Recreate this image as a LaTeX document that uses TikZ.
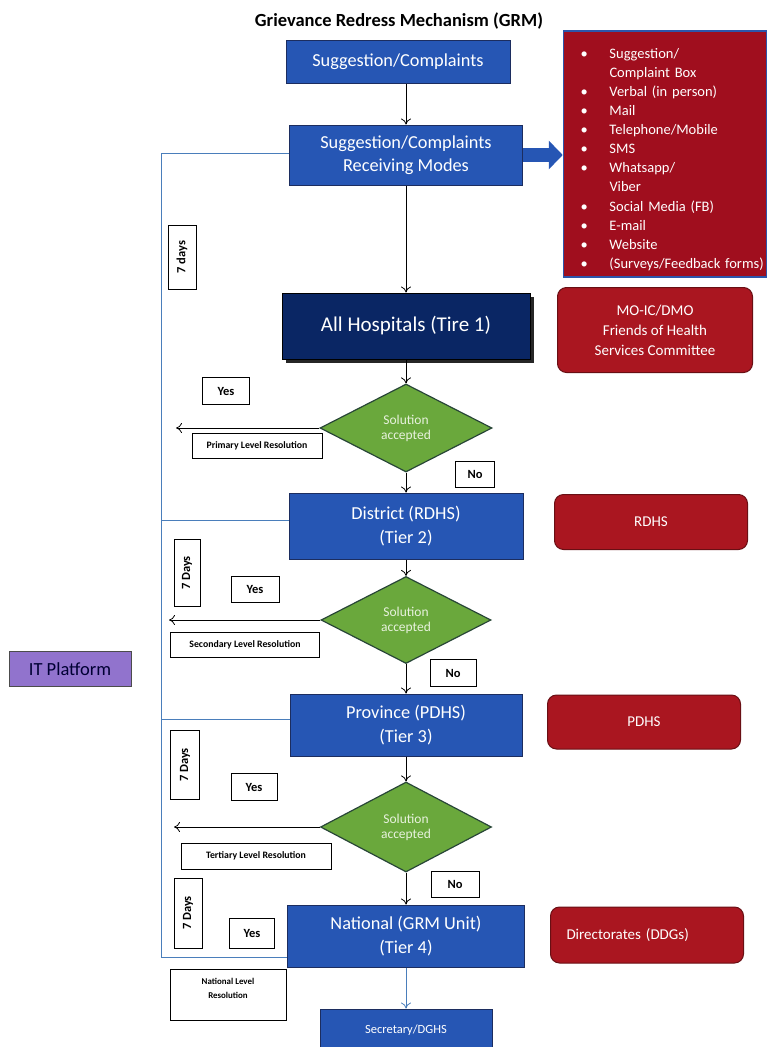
\documentclass[tikz,border=0pt]{standalone}
\usepackage{fontspec}
\setmainfont{Carlito}
\usetikzlibrary{shapes.geometric,arrows.meta,shadows}

\definecolor{grmblue}{RGB}{38,86,180}
\definecolor{grmedge}{RGB}{28,45,95}
\definecolor{grmnavy}{RGB}{10,38,100}
\definecolor{grmred}{RGB}{170,22,32}
\definecolor{grmdarkred}{RGB}{105,15,20}
\definecolor{grmlistred}{RGB}{160,14,30}
\definecolor{grmlistedge}{RGB}{45,85,170}
\definecolor{grmgreen}{RGB}{106,168,60}
\definecolor{grmgreenedge}{RGB}{40,70,55}
\definecolor{grmpale}{RGB}{232,242,222}
\definecolor{grmsteel}{RGB}{74,126,187}
\definecolor{grmlilac}{RGB}{145,115,205}

\tikzset{
  tierbox/.style={draw=grmedge, line width=1pt, fill=grmblue, text=white, align=center,
    inner sep=0pt, font=\fontsize{18.3}{24}\selectfont},
  staffbox/.style={draw=grmdarkred, line width=1pt, fill=grmred, rounded corners=9pt, text=white,
    align=center, inner sep=0pt, font=\fontsize{15}{20}\selectfont},
  decision/.style={diamond, draw=grmgreenedge, line width=1.2pt, fill=grmgreen, text=grmpale,
    align=center, inner sep=0pt, font=\fontsize{13.5}{15}\selectfont},
  tagbox/.style={draw=black, line width=0.8pt, fill=white, inner sep=0pt, align=center},
  answer/.style={tagbox, font=\bfseries\fontsize{12.5}{14}\selectfont},
  levelbox/.style={tagbox, font=\bfseries\fontsize{9.8}{11}\selectfont},
  daysbox/.style={tagbox, rotate=90, font=\bfseries\fontsize{12.5}{14}\selectfont},
  flow/.style={-{To[length=6pt,width=10pt]}, line width=0.8pt},
  itline/.style={draw=grmsteel, line width=0.9pt}
}

\newcommand{\modeitem}[1]{\makebox[46pt][l]{\hspace{17pt}\textbullet}#1}

\begin{document}
\begin{tikzpicture}[x=1pt,y=-1pt]
\useasboundingbox (0,0) rectangle (767,1047);

%title
\node[font=\bfseries\fontsize{18.5}{20}\selectfont] (title) at (399,21) {Grievance Redress Mechanism (GRM)};

%complaints and receiving modes
\node[tierbox, minimum width=224pt, minimum height=43pt] (sugg) at (398,62) {Suggestion/Complaints};
\node[tierbox, minimum width=233pt, minimum height=60pt, font=\fontsize{18.3}{23}\selectfont] (modes) at (406,155) {Suggestion/Complaints\\Receiving Modes};
\node[draw=grmlistedge, line width=1.5pt, fill=grmlistred, text=white, minimum width=203pt, minimum height=246pt,
  text width=203pt, inner sep=0pt, align=left, font=\fontsize{14.5}{19.1}\selectfont] (list) at (665,154)
  {\rule{0pt}{21pt}\modeitem{Suggestion/}\\
   \hspace*{46pt}Complaint Box\\
   \modeitem{Verbal (in person)}\\
   \modeitem{Mail}\\
   \modeitem{Telephone/Mobile}\\
   \modeitem{SMS}\\
   \modeitem{Whatsapp/}\\
   \hspace*{46pt}Viber\\
   \modeitem{Social Media (FB)}\\
   \modeitem{E-mail}\\
   \modeitem{Website}\\
   \modeitem{(Surveys/Feedback forms)}};
\draw[flow] (sugg.south -| modes) -- (modes.north);
\draw[grmblue, line width=14pt, -{Triangle[length=14pt,width=28pt]}] (modes.east) -- (modes.east -| list.west);

%tier 1
\node[tierbox, fill=grmnavy, draw=black, minimum width=248pt, minimum height=66pt, font=\fontsize{21}{24}\selectfont,
  drop shadow={shadow xshift=4pt, shadow yshift=-4pt, fill=black, opacity=0.85}] (hosp) at (406,326) {All Hospitals (Tire 1)};
\node[staffbox, minimum width=195pt, minimum height=85pt] (moic) at (655,330) {MO-IC/DMO\\Friends of Health\\Services Committee};
\draw[flow] (modes) -- (hosp);
\node[decision, minimum width=172pt, minimum height=88pt] (dia1) at (406,428) {Solution\\accepted};
\draw[flow] (hosp) -- (dia1);
\node[daysbox, minimum width=64pt, minimum height=28pt] (days1) at (182,257) {7 days};
\node[answer, minimum width=47pt, minimum height=27pt] (yes1) at (226,391) {Yes};
\node[levelbox, minimum width=130pt, minimum height=25pt] (res1) at (257,446) {Primary Level Resolution};
\node[answer, minimum width=39pt, minimum height=26pt] (no1) at (475,474) {No};
\coordinate (end1) at (176,428);
\draw[flow] (dia1.west) -- (end1);

%tier 2
\node[tierbox, minimum width=234pt, minimum height=66pt] (district) at (406,526) {District (RDHS)\\(Tier 2)};
\node[staffbox, minimum width=193pt, minimum height=55pt] (rdhs) at (651,522) {RDHS};
\draw[flow] (dia1) -- (district);
\node[decision, minimum width=170pt, minimum height=87pt] (dia2) at (406,620) {Solution\\accepted};
\draw[flow] (district) -- (dia2);
\node[daysbox, minimum width=67pt, minimum height=26pt] (days2) at (187,573) {7 Days};
\node[answer, minimum width=48pt, minimum height=26pt] (yes2) at (255,589) {Yes};
\node[levelbox, minimum width=149pt, minimum height=25pt] (res2) at (245,645) {Secondary Level Resolution};
\node[answer, minimum width=46pt, minimum height=27pt] (no2) at (453,673) {No};
\coordinate (end2) at (169,620);
\draw[flow] (dia2.west) -- (end2);

%IT platform
\node[draw=gray!60!black, line width=0.8pt, fill=grmlilac, text=black!80!blue, minimum width=122pt, minimum height=35pt,
  inner sep=0pt, font=\fontsize{18.5}{20}\selectfont] (itplat) at (70,669) {IT Platform};

%tier 3
\node[tierbox, minimum width=232pt, minimum height=62pt] (province) at (406,725) {Province (PDHS)\\(Tier 3)};
\node[staffbox, minimum width=193pt, minimum height=54pt] (pdhs) at (644,722) {PDHS};
\draw[flow] (dia2) -- (province);
\node[decision, minimum width=171pt, minimum height=90pt] (dia3) at (406,827) {Solution\\accepted};
\draw[flow] (province) -- (dia3);
\node[daysbox, minimum width=69pt, minimum height=29pt] (days3) at (185,765) {7 Days};
\node[answer, minimum width=46pt, minimum height=27pt] (yes3) at (254,787) {Yes};
\node[levelbox, minimum width=150pt, minimum height=26pt] (res3) at (256,856) {Tertiary Level Resolution};
\node[answer, minimum width=48pt, minimum height=26pt] (no3) at (455,884) {No};
\coordinate (end3) at (174,827);
\draw[flow] (dia3.west) -- (end3);

%tier 4
\node[tierbox, minimum width=237pt, minimum height=62pt] (national) at (406,936) {National (GRM Unit)\\(Tier 4)};
\node[staffbox, minimum width=193pt, minimum height=56pt, align=left, text width=161pt] (ddg) at (647,935) {Directorates (DDGs)};
\draw[flow] (dia3) -- (national);
\node[daysbox, minimum width=70pt, minimum height=28pt] (days4) at (188,913) {7 Days};
\node[answer, minimum width=45pt, minimum height=30pt] (yes4) at (252,933) {Yes};
\node[tagbox, minimum width=116pt, minimum height=51pt, text depth=12.5pt, font=\bfseries\fontsize{8.9}{14}\selectfont] (res4) at (228,995) {National Level\\Resolution};
\node[tierbox, minimum width=172pt, minimum height=42pt, font=\fontsize{12.5}{15}\selectfont] (secretary) at (406,1030) {Secretary/DGHS};
\draw[flow, grmsteel] (national) -- (secretary);

%IT line
\coordinate (ittop) at (161,153);
\coordinate (itbot) at (161,957);
\draw[itline] (ittop -| modes.west) -- (ittop) -- (itbot) -- (itbot -| national.west);
\path ([yshift=6pt]district.west) coordinate (itdist);
\draw[itline] (itdist) -- (itdist -| ittop);
\path ([yshift=6pt]province.west) coordinate (itprov);
\draw[itline] (itprov) -- (itprov -| ittop);

\end{tikzpicture}
\end{document}
